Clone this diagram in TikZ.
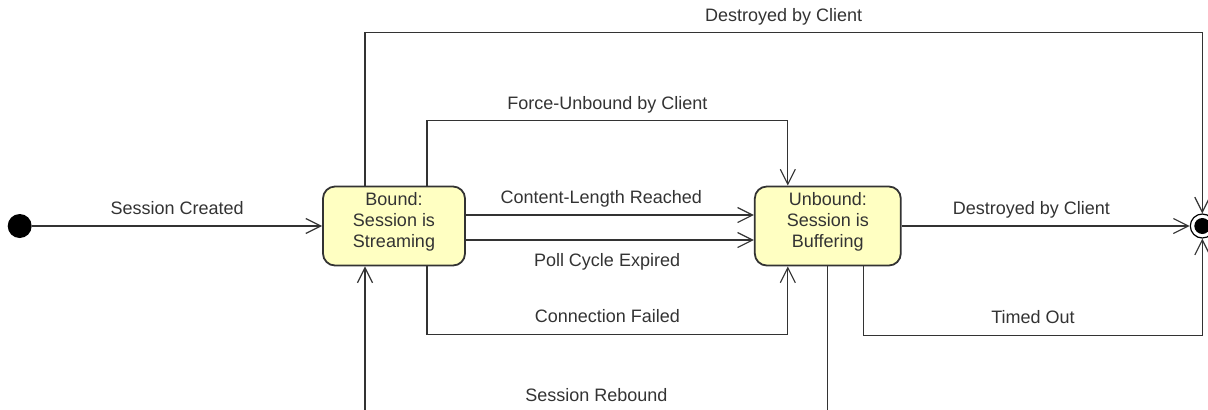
\documentclass[tikz,border=0pt]{standalone}
\usepackage{fontspec}
\setmainfont{Liberation Sans}
\usepackage{tikz}
\usetikzlibrary{arrows.meta,positioning}
\definecolor{stfill}{HTML}{FFFFC2}
\definecolor{ln}{HTML}{333333}
\tikzstyle{statebox} = [draw=ln, line width=0.9pt, rounded corners=6pt, fill=stfill,
    minimum height=39.5pt, align=center, inner sep=0pt, text=ln,
    text height=27.5pt, text depth=5.9pt,
    font=\fontsize{9}{10.5}\selectfont]
\tikzstyle{startstate} = [circle, fill=black, minimum size=12pt, inner sep=0pt]
\tikzstyle{endstate} = [circle, draw=black, line width=0.6pt, fill=white,
    minimum size=12pt, inner sep=0pt,
    path picture={\fill[black] (path picture bounding box.center) circle (4pt);}]
\tikzstyle{trans} = [draw=ln, line width=0.6pt, -{Straight Barb[length=7.5pt,width=7.5pt]}]
\tikzstyle{lbl} = [font=\fontsize{9}{10.5}\selectfont, text=ln, inner sep=0pt,
    text height=6.5pt, text depth=0pt]
\tikzstyle{lbla} = [lbl, yshift=9pt]
\tikzstyle{lblb} = [lbl, yshift=-10pt]

\begin{document}
\begin{tikzpicture}[x=0.5pt, y=-0.5pt, node distance=144pt]
  \useasboundingbox (0,0) rectangle (1208,409);
  \clip (0,0) rectangle (1208,409);
  % Place nodes
  \node [statebox, minimum width=71pt] (bound) at (394,226)
  {Bound:\\Session is\\Streaming};
  \node [startstate, left=145pt of bound] (init) {};
  \node [statebox, minimum width=73pt, right=of bound] (unbound)
  {Unbound:\\Session is\\Buffering};
  \node [endstate, right=of unbound] (final) {};
  % Draw edges
  \draw [trans] (init) -- (bound) node [lbla, midway] {Session Created};
  \draw [trans] ([yshift=5.5pt]bound.east) -- ([yshift=5.5pt]unbound.west)
    node [lbla, pos=0.47] {Content-Length Reached};
  \draw [trans] ([yshift=-7pt]bound.east) -- ([yshift=-7pt]unbound.west)
    node [lblb, pos=0.49] {Poll Cycle Expired};
  \draw [trans] ([xshift=16.5pt]bound.north) -- ++(0,-65) -| ([xshift=-20pt]unbound.north)
    node [lbla, pos=0.25] {Force-Unbound by Client};
  \draw [trans] ([xshift=16.5pt]bound.south) -- ++(0,68) -| ([xshift=-20pt]unbound.south)
    node [lbla, pos=0.25] {Connection Failed};
  \draw [trans] (unbound.south) -- ++(0,146.5) -| ([xshift=-14.5pt]bound.south)
    node [lbla, pos=0.25] {Session Rebound};
  \draw [trans] ([xshift=-14.5pt]bound.north) -- ++(0,-153) -| (final.north)
    node [lbla, pos=0.25] {Destroyed by Client};
  \draw [trans] (unbound.east) -- (final.west) node [lbla, pos=0.45] {Destroyed by Client};
  \draw [trans] ([xshift=18pt]unbound.south) -- ++(0,69) -| (final.south)
    node [lbla, pos=0.25] {Timed Out};
\end{tikzpicture}
\end{document}
